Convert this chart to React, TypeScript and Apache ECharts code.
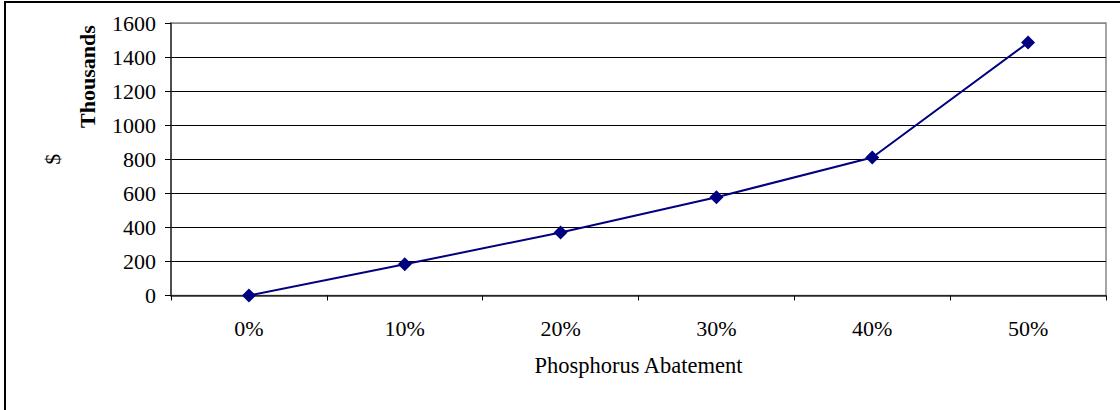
import React, { useEffect, useRef } from "react";
import * as echarts from "echarts";

const categories = ["0%", "10%", "20%", "30%", "40%", "50%"];
const costValues = [0, 183, 370, 577, 810, 1485];
const xAxisTitle = "Phosphorus Abatement";
const yAxisTitle = "$";
const unitsLabel = "Thousands";

const FONT = "'Liberation Serif', 'Times New Roman', serif";

export default function App() {
  const ref = useRef<HTMLDivElement>(null);
  useEffect(() => {
    if (!ref.current) return;
    const chart = echarts.init(ref.current, null, { renderer: "svg" });
    const splitColors = ["#000", "#000", "#000", "#000", "#000", "#000", "#000", "#000", "#888"];
    chart.setOption({
      animation: false,
      backgroundColor: "#fff",
      textStyle: { fontFamily: FONT },
      grid: {
        left: 171,
        right: 14,
        top: 23,
        bottom: 114.5,
        show: true,
        borderColor: "#888",
        borderWidth: 1.5,
        backgroundColor: "transparent",
      },
      graphic: [
        {
          type: "rect",
          shape: { x: 5, y: 2, width: 1140, height: 440 },
          style: { fill: "none", stroke: "#000", lineWidth: 2 },
          silent: true,
          z: -1,
        },
        {
          type: "text",
          x: 87,
          y: 128,
          rotation: Math.PI / 2,
          style: {
            text: unitsLabel,
            fontFamily: FONT,
            fontWeight: "bold",
            fontSize: 22,
            fill: "#000",
            align: "left",
            verticalAlign: "middle",
          },
        },
      ],
      xAxis: {
        type: "category",
        data: categories,
        boundaryGap: true,
        name: xAxisTitle,
        nameLocation: "middle",
        nameGap: 58,
        nameTextStyle: { fontFamily: FONT, fontSize: 22.5, color: "#000" },
        axisLine: { lineStyle: { color: "#333", width: 1.5 } },
        axisTick: { show: true, length: 5, lineStyle: { color: "#000" } },
        axisLabel: { margin: 22, fontFamily: FONT, fontSize: 22, color: "#000" },
        splitLine: { show: false },
      },
      yAxis: {
        type: "value",
        min: 0,
        max: 1600,
        interval: 200,
        name: yAxisTitle,
        nameLocation: "middle",
        nameGap: 108,
        nameRotate: 90,
        nameTextStyle: { fontFamily: FONT, fontSize: 22, color: "#000" },
        axisLine: { show: true, lineStyle: { color: "#333", width: 1.5 } },
        axisTick: { show: true, length: 6, lineStyle: { color: "#000" } },
        axisLabel: {
          margin: 15,
          fontFamily: FONT,
          fontSize: 22,
          color: "#000",
          formatter: (v: number) => String(v),
        },
        splitLine: { show: true, lineStyle: { color: splitColors, width: 1 } },
      },
      series: [
        {
          type: "line",
          data: costValues,
          symbol: "diamond",
          symbolSize: 14,
          lineStyle: { color: "#000080", width: 2 },
          itemStyle: { color: "#000080" },
        },
      ],
    });
    return () => chart.dispose();
  }, []);
  return (
    <div
      ref={ref}
      style={{ position: "fixed", left: 0, top: 0, width: 1120, height: 410 }}
    />
  );
}
